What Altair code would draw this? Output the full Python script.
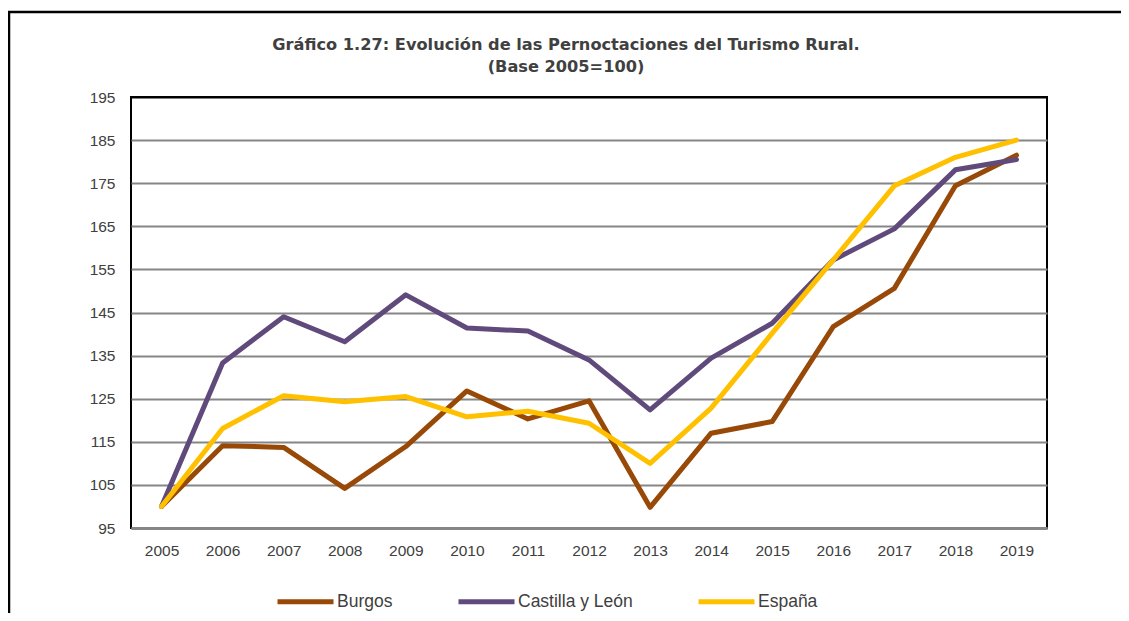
import altair as alt
import pandas as pd

years = [str(y) for y in range(2005, 2020)]
burgos = [100, 114.1, 113.7, 104.2, 113.9, 126.8, 120.3, 124.5, 99.8, 117.0, 119.7, 141.7, 150.6, 174.4, 181.5]
castilla = [100, 133.3, 144.0, 138.2, 149.1, 141.4, 140.7, 134.0, 122.4, 134.4, 142.5, 157.2, 164.4, 178.1, 180.5]
espana = [100, 118.1, 125.7, 124.3, 125.5, 120.8, 122.1, 119.3, 110.0, 122.8, 140.2, 157.2, 174.4, 181.0, 185.0]
series_names = ["Burgos", "Castilla y León", "España"]
series_colors = ["#984807", "#604A7B", "#FFC000"]
y_ticks = [95, 105, 115, 125, 135, 145, 155, 165, 175, 185, 195]
title_lines = ["Gráfico 1.27: Evolución de las Pernoctaciones del Turismo Rural.", "(Base 2005=100)"]

rows = []
for name, vals in zip(series_names, [burgos, castilla, espana]):
    for yr, v in zip(years, vals):
        rows.append({"Año": yr, "Valor": v, "Serie": name, "orden": series_names.index(name)})
df = pd.DataFrame(rows)

W, H = 916, 431

lines = alt.Chart(df).mark_line(strokeWidth=5, strokeJoin="round", strokeCap="round").encode(
    x=alt.X("Año:O", scale=alt.Scale(type="point", padding=0.5),
            axis=alt.Axis(title=None, labelAngle=0, tickSize=0, labelPadding=15,
                          domainColor="#868686", domainWidth=3, grid=False,
                          labelFont="Liberation Sans", labelFontSize=15.5, labelColor="#404040")),
    y=alt.Y("Valor:Q", scale=alt.Scale(domain=[95, 195], nice=False, zero=False),
            axis=alt.Axis(title=None, values=y_ticks, tickSize=0, labelPadding=16, domain=False,
                          gridColor={"condition": {"test": "datum.value >= 195", "value": "black"},
                                     "value": "#868686"},
                          gridWidth=2,
                          labelFont="Liberation Sans", labelFontSize=15.5, labelColor="#404040")),
    color=alt.Color("Serie:N", scale=alt.Scale(domain=series_names, range=series_colors),
                    legend=alt.Legend(title=None, orient="none", legendX=144, legendY=474,
                                      direction="horizontal", columns=3, columnPadding=55,
                                      symbolType="stroke", symbolSize=3136, symbolStrokeWidth=5,
                                      labelOffset=1, labelFont="Liberation Sans", labelFontSize=17.5,
                                      labelColor="#404040")),
    order=alt.Order("orden:Q"),
)

tdf = pd.DataFrame({"t": title_lines, "k": [0, 1]})
title1 = alt.Chart(tdf).transform_filter("datum.k == 0").mark_text(
    font="DejaVu Sans", fontWeight="bold", fontSize=16.2, color="#404040", align="center", baseline="alphabetic"
).encode(text="t:N", x=alt.value(435), y=alt.value(-47))
title2 = alt.Chart(tdf).transform_filter("datum.k == 1").mark_text(
    font="DejaVu Sans", fontWeight="bold", fontSize=16.2, color="#404040", align="center", baseline="alphabetic"
).encode(text="t:N", x=alt.value(435), y=alt.value(-25))

fdf = pd.DataFrame({"f": [0]})
frame_top = alt.Chart(fdf).mark_rule(color="black", strokeWidth=2.5).encode(
    x=alt.value(-123), x2=alt.value(W + 80), y=alt.value(-85))
frame_left = alt.Chart(fdf).mark_rule(color="black", strokeWidth=2.5).encode(
    x=alt.value(-122), y=alt.value(-86), y2=alt.value(H + 100))

chart = alt.layer(frame_top, frame_left, lines, title1, title2).properties(
    width=W, height=H,
    autosize=alt.AutoSizeParams(type="none"),
    padding={"left": 123, "top": 89, "right": 74, "bottom": 85},
    background="white",
).configure_view(stroke="black", strokeWidth=2)

chart.save("out.html", embed_options={"renderer": "svg", "actions": False})
